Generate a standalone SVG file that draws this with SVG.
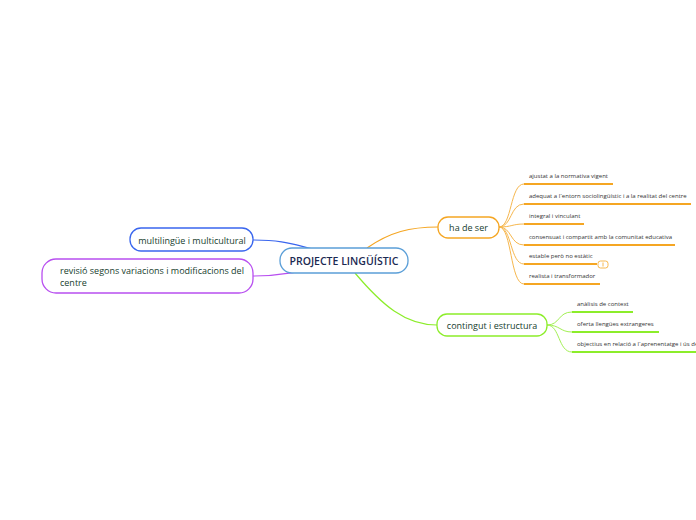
<svg xmlns="http://www.w3.org/2000/svg" width="696" height="520" viewBox="0 0 696 520">
<style>
text{font-family:"Open Sans","Noto Sans","Liberation Sans",sans-serif}
.node{fill:#fff;stroke-width:1.3}
.t1{font-size:9px;fill:#17402e;font-weight:500}
.tc{font-size:10.5px;fill:#1b2a52;font-weight:600}
.leaf{font-size:6px;fill:#333}
.or{stroke:#f5a623;fill:none}
.gr{stroke:#8ced2a;fill:none}
.ul{stroke-width:2}
.cn{stroke-width:1.2;fill:none}
.sub{stroke-width:1;fill:none;opacity:.8}
</style>
<rect width="696" height="520" fill="#fff"/>
<g id="connectors">
<path class="cn" stroke="#3a66ee" d="M253,240 C282,240 292,244 313,249"/>
<path class="cn" stroke="#b84ff0" d="M253,276 C276,276 284,274 297,272"/>
<path class="cn" stroke="#f5a623" d="M367,248 C390,232 410,227 438,227"/>
<path class="cn" stroke="#8ced2a" d="M355,273 C382,305 405,325 437,325"/>
<g class="or sub">
<path d="M499,227 C512,227 510,184 524,184"/>
<path d="M499,227 C512,227 510,204 524,204"/>
<path d="M499,227 C512,227 512,224 524,224"/>
<path d="M499,227 C512,227 510,245 524,245"/>
<path d="M499,227 C512,227 510,264 524,264"/>
<path d="M499,227 C512,227 510,284 524,284"/>
</g>
<g class="gr sub">
<path d="M547,325 C560,325 558,312 572,312"/>
<path d="M547,325 C560,325 560,332 572,332"/>
<path d="M547,325 C560,325 558,352 572,352"/>
</g>
</g>
<g id="central">
<rect class="node" x="280" y="248" width="128" height="25" rx="12" stroke="#5b9fd8"/>
<text class="tc" x="344" y="265" text-anchor="middle">PROJECTE LINGÜÍSTIC</text>
</g>
<g id="multilingue">
<rect class="node" x="130" y="228" width="123" height="23" rx="11" stroke="#3a66ee"/>
<text class="t1" x="192" y="243.5" text-anchor="middle">multilingüe i multicultural</text>
</g>
<g id="revisio">
<rect class="node" x="42" y="259" width="211" height="34" rx="14" stroke="#b84ff0"/>
<text class="t1" x="60" y="273.5">revisió segons variacions i modificacions del</text>
<text class="t1" x="60" y="285.5">centre</text>
</g>
<g id="hadeser">
<rect class="node" x="438" y="217" width="61" height="21" rx="10" stroke="#f5a623"/>
<text class="t1" x="468.5" y="231" text-anchor="middle">ha de ser</text>
</g>
<g id="contingut">
<rect class="node" x="437" y="314" width="110" height="22" rx="10" stroke="#8ced2a"/>
<text class="t1" x="492" y="328.5" text-anchor="middle">contingut i estructura</text>
</g>
<g id="o1"><text class="leaf" x="529" y="178">ajustat a la normativa vigent</text><line class="or ul" x1="524" y1="184" x2="613" y2="184"/></g>
<g id="o2"><text class="leaf" x="529" y="198">adequat a l´entorn sociolingüístic i a la realitat del centre</text><line class="or ul" x1="524" y1="204" x2="691" y2="204"/></g>
<g id="o3"><text class="leaf" x="529" y="218">integral i vinculant</text><line class="or ul" x1="524" y1="224" x2="584" y2="224"/></g>
<g id="o4"><text class="leaf" x="529" y="239">consensuat i compartit amb la comunitat educativa</text><line class="or ul" x1="524" y1="245" x2="675" y2="245"/></g>
<g id="o5"><text class="leaf" x="529" y="258">estable però no estàtic</text><line class="or ul" x1="524" y1="264" x2="597" y2="264"/>
<rect x="598" y="261" width="10" height="7" rx="2.5" fill="#fff" stroke="#f5a623" stroke-width="0.8"/>
<line x1="603" y1="262.5" x2="603" y2="266.5" stroke="#f5a623" stroke-width="0.8"/></g>
<g id="o6"><text class="leaf" x="529" y="278">realista i transformador</text><line class="or ul" x1="524" y1="284" x2="600" y2="284"/></g>
<g id="g1"><text class="leaf" x="577" y="306">anàlisis de context</text><line class="gr ul" x1="572" y1="312" x2="633" y2="312"/></g>
<g id="g2"><text class="leaf" x="577" y="326">oferta llengües extrangeres</text><line class="gr ul" x1="572" y1="332" x2="659" y2="332"/></g>
<g id="g3"><text class="leaf" x="577" y="346">objectius en relació a l´aprenentatge i ús de les llengües</text><line class="gr ul" x1="572" y1="352" x2="700" y2="352"/></g>
</svg>
